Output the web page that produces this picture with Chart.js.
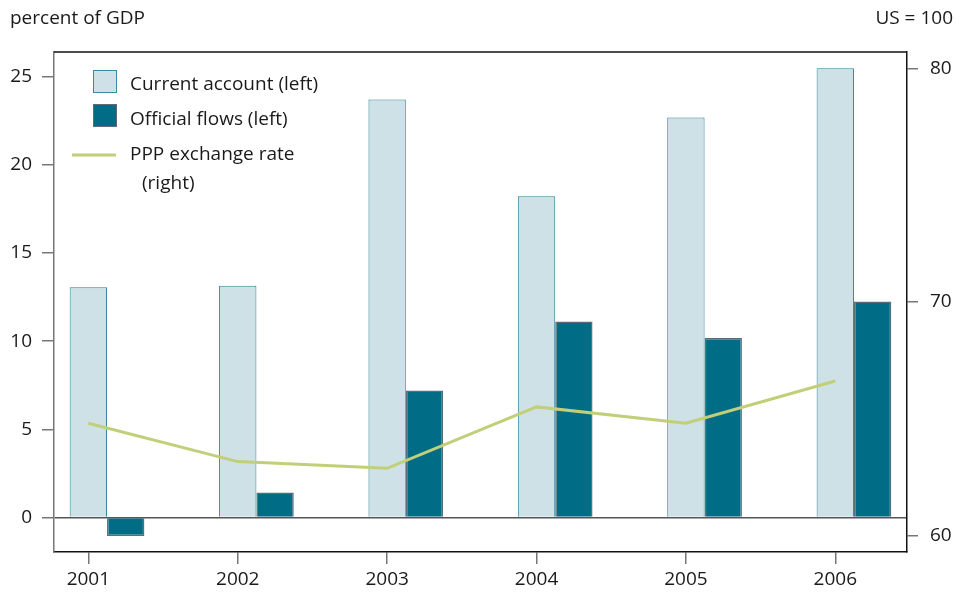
<!DOCTYPE html>
<html>
<head>
<meta charset="utf-8">
<script src="https://cdn.jsdelivr.net/npm/chart.js@4"></script>
<style>
  body { margin: 0; background: #fff; }
  canvas { display: block; }
</style>
</head>
<body>
<canvas id="flowsChart" width="957" height="592"></canvas>
<script>
const ctx = document.getElementById('flowsChart')

let years = [2001, 2002, 2003, 2004, 2005, 2006]
let currentAccount = [13.06, 13.15, 23.71, 18.22, 22.69, 25.48]
let officialFlows = [-1.04, 1.42, 7.21, 11.12, 10.18, 12.26]
let pppRate = [64.81, 63.17, 62.88, 65.51, 64.81, 66.62]

let leftTicks = [0, 5, 10, 15, 20, 25]
let rightTicks = [60, 70, 80]

const font = { family: 'Open Sans', size: 19 }
const textColor = '#1a1a1a'

// x range is asymmetric in the original (more room after 2006)
const xMin = 2000.77
const xMax = 2006.48
const barShift = 0.25 // official flows sit a bar-width right of the year

const setTicks = (list) => (scale) => {
    scale.ticks = list.map(v => ({ value: v }))
}

const frameAndText = {
    id: 'frameAndText',
    afterDraw(chart) {
        const c = chart.ctx
        const a = chart.chartArea
        c.save()
        // top border of the frame
        c.strokeStyle = '#111'
        c.lineWidth = 1.5
        c.beginPath()
        c.moveTo(a.left, a.top)
        c.lineTo(a.right, a.top)
        c.stroke()

        c.font = '19px "Open Sans"'
        c.fillStyle = textColor
        c.textBaseline = 'middle'
        c.textAlign = 'left'
        c.fillText('percent of GDP', 10, 19)
        c.textAlign = 'right'
        c.fillText('US = 100', 953, 19)

        // legend
        c.textAlign = 'left'
        c.lineWidth = 1
        c.fillStyle = '#cde1e6'
        c.fillRect(93.5, 70.5, 23, 22)
        c.strokeStyle = '#3a8aa3'
        c.strokeRect(93.5, 70.5, 23, 22)
        c.fillStyle = '#006c86'
        c.fillRect(93.5, 104.5, 23, 22)
        c.strokeStyle = '#5b6e78'
        c.strokeRect(93.5, 104.5, 23, 22)
        c.strokeStyle = '#c2cf78'
        c.lineWidth = 3
        c.beginPath()
        c.moveTo(72, 155)
        c.lineTo(116, 155)
        c.stroke()

        c.fillStyle = textColor
        c.fillText('Current account (left)', 130, 85)
        c.fillText('Official flows (left)', 130, 120)
        c.fillText('PPP exchange rate', 130, 155)
        c.fillText('(right)', 142, 184)
        c.restore()
    }
}

new Chart(ctx, {
    data: {
        datasets: [
            {
                type: 'line',
                label: 'PPP exchange rate (right)',
                data: years.map((y, i) => ({ x: y, y: pppRate[i] })),
                xAxisID: 'x',
                yAxisID: 'y1',
                borderColor: '#c2cf78',
                borderWidth: 3,
                pointRadius: 0,
                tension: 0,
                order: 0,
            },
            {
                type: 'bar',
                label: 'Current account (left)',
                data: years.map((y, i) => ({ x: y, y: currentAccount[i] })),
                xAxisID: 'x',
                yAxisID: 'y',
                backgroundColor: '#cde1e6',
                borderColor: '#2f8199',
                borderWidth: 1,
                grouped: false,
                barPercentage: 0.25,
                categoryPercentage: 1,
                order: 1,
            },
            {
                type: 'bar',
                label: 'Official flows (left)',
                data: years.map((y, i) => ({ x: y, y: officialFlows[i] })),
                xAxisID: 'x2',
                yAxisID: 'y',
                backgroundColor: '#006c86',
                borderColor: '#5b6e78',
                borderWidth: 1.5,
                grouped: false,
                barPercentage: 0.25,
                categoryPercentage: 1,
                order: 1,
            },
        ],
    },
    options: {
        responsive: false,
        animation: false,
        devicePixelRatio: 1,
        layout: { padding: { top: 52, left: 0, right: 0, bottom: 0 } },
        scales: {
            x: {
                type: 'linear',
                offset: false,
                min: xMin,
                max: xMax,
                afterBuildTicks: setTicks(years),
                afterFit: (scale) => { scale.height = 40 },
                border: { color: '#111', width: 1.5 },
                grid: {
                    offset: false,
                    drawOnChartArea: false,
                    tickLength: 12,
                    tickColor: '#777',
                    lineWidth: 1.5,
                },
                ticks: {
                    font: font,
                    color: textColor,
                    padding: 4,
                    maxRotation: 0,
                    callback: (v) => String(v),
                },
            },
            x2: {
                type: 'linear',
                display: false,
                offset: false,
                grid: { offset: false },
                min: xMin - barShift,
                max: xMax - barShift,
            },
            y: {
                position: 'left',
                min: -1.95,
                max: 26.4,
                afterBuildTicks: setTicks(leftTicks),
                afterFit: (scale) => { scale.width = 54 },
                border: { color: '#777', width: 1.5 },
                grid: {
                    drawOnChartArea: true,
                    color: (c) => c.tick && c.tick.value === 0 ? '#555' : 'rgba(0,0,0,0)',
                    lineWidth: 1.5,
                    tickLength: 12,
                    tickColor: '#777',
                },
                ticks: {
                    font: font,
                    color: textColor,
                    padding: 10,
                },
            },
            y1: {
                position: 'right',
                min: 59.3,
                max: 80.7,
                afterBuildTicks: setTicks(rightTicks),
                afterFit: (scale) => { scale.width = 50 },
                border: { color: '#111', width: 1.5 },
                grid: {
                    drawOnChartArea: false,
                    tickLength: 11,
                    tickColor: '#777',
                    lineWidth: 1.5,
                },
                ticks: {
                    font: font,
                    color: textColor,
                    padding: 12,
                },
            },
        },
        plugins: {
            legend: { display: false },
            tooltip: { enabled: false },
        },
    },
    plugins: [frameAndText],
})
</script>
</body>
</html>
